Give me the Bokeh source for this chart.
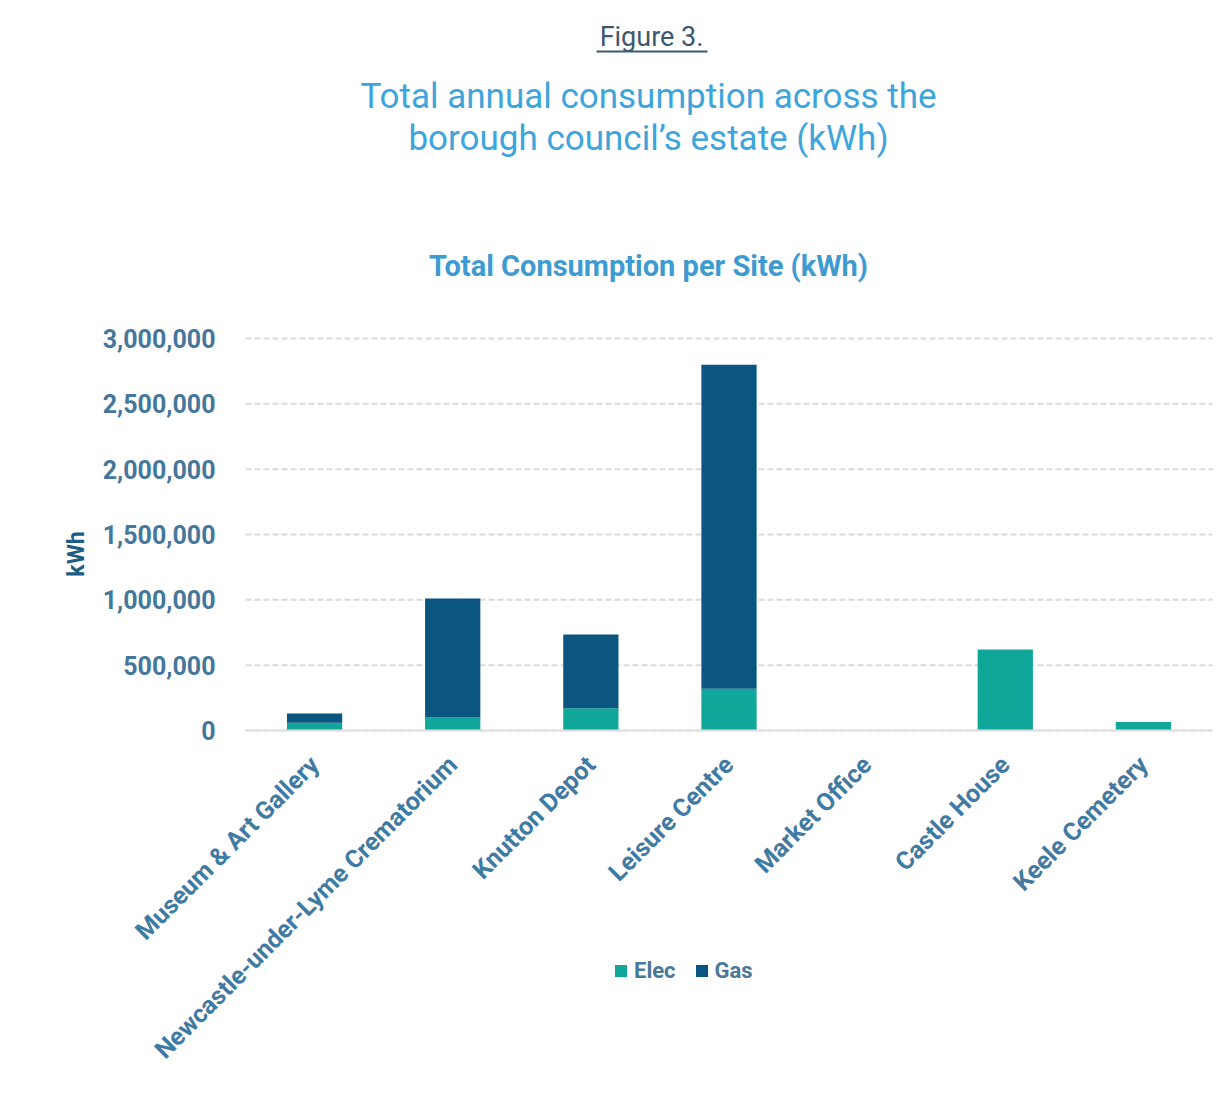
from bokeh.plotting import figure
from bokeh.models import (Range1d, NumeralTickFormatter, Legend, LegendItem, Label,
                          BoxAnnotation, FixedTicker)
from bokeh.embed import file_html
from bokeh.resources import INLINE
from math import pi

sites = ["Museum & Art Gallery", "Newcastle-under-Lyme Crematorium", "Knutton Depot",
         "Leisure Centre", "Market Office", "Castle House", "Keele Cemetery"]
elec = [60000, 100000, 170000, 320000, 0, 620000, 65000]
gas = [70000, 910000, 565000, 2480000, 0, 0, 0]
series = ["Elec", "Gas"]
colors = ["#10a69a", "#0b5680"]
y_ticks = [0, 500000, 1000000, 1500000, 2000000, 2500000, 3000000]

FONT = "Roboto"
W, H = 1230, 1107
PLOT_L, PLOT_R = 245, 1212   # canvas columns of the category band
Y0_PX = 730                  # canvas row of value 0
YMAX_PX = 338                # canvas row of the top tick
per_px_y = (y_ticks[-1] - y_ticks[0]) / (Y0_PX - YMAX_PX)
n = len(sites)
per_px_x = n / (PLOT_R - PLOT_L)
pos = list(range(n))          # category slots on the x scale
band = (-0.5, n - 0.5)

# the frame covers the whole canvas so that the titles, legend and rotated labels are not clipped
x_start = -0.5 - PLOT_L * per_px_x
x_end = n - 0.5 + (W - PLOT_R) * per_px_x
p = figure(width=W, height=H,
           x_range=Range1d(x_start, x_end),
           y_range=Range1d(-(H - Y0_PX) * per_px_y, Y0_PX * per_px_y),
           output_backend="svg", toolbar_location=None, title=None,
           min_border_left=0, min_border_right=0, min_border_top=0, min_border_bottom=0)
p.outline_line_color = None
p.background_fill_color = "white"
p.border_fill_color = "white"

# dashed horizontal grid lines limited to the category band
p.segment(x0=band[0], x1=band[1], y0=y_ticks, y1=y_ticks,
          line_color="#dadada", line_width=2, line_dash="6 3")

data = {"x": pos, "sites": sites, "Elec": elec, "Gas": gas}
rs = p.vbar_stack(series, x="x", width=0.4, color=colors, source=data, line_color=None)

p.yaxis.fixed_location = band[0]
p.yaxis.ticker = FixedTicker(ticks=y_ticks)
p.yaxis.formatter = NumeralTickFormatter(format="0,0")
p.yaxis.axis_line_color = None
p.yaxis.major_tick_line_color = None
p.yaxis.minor_tick_line_color = None
p.yaxis.major_label_text_font = FONT
p.yaxis.major_label_text_font_size = "25px"
p.yaxis.major_label_text_font_style = "bold"
p.yaxis.major_label_text_color = "#45779c"
p.yaxis.axis_label = "kWh"
p.yaxis.axis_label_text_font = FONT
p.yaxis.axis_label_text_font_size = "23px"
p.yaxis.axis_label_text_font_style = "bold"
p.yaxis.axis_label_text_color = "#1e5d83"
p.yaxis.axis_label_standoff = 10
p.yaxis.major_label_standoff = 24

p.xaxis.fixed_location = 0
p.xaxis.bounds = band
p.xaxis.ticker = FixedTicker(ticks=pos)
p.xaxis.major_label_overrides = {i: s for i, s in zip(pos, sites)}
p.xaxis.axis_line_color = "#e0e0e0"
p.xaxis.axis_line_width = 2
p.xaxis.major_tick_line_color = None
p.xaxis.minor_tick_line_color = None
p.xaxis.major_label_orientation = pi / 4
p.xaxis.major_label_text_font = FONT
p.xaxis.major_label_text_font_size = "25px"
p.xaxis.major_label_text_font_style = "bold"
p.xaxis.major_label_text_color = "#3f7aa2"
p.xaxis.major_label_standoff = 24

p.xgrid.grid_line_color = None
p.ygrid.grid_line_color = None


def lab(text, cx, cy, size, color, style="normal"):
    # cx, cy: canvas position of the text centre; frame screen units (origin bottom-left)
    p.add_layout(Label(x=cx, y=H - cy, x_units="screen", y_units="screen", text=text,
                       text_font=FONT, text_font_size=size, text_font_style=style,
                       text_color=color, text_align="center", text_baseline="middle"))


lab("Figure 3.", 651, 36, "27px", "#3d5870")
p.add_layout(BoxAnnotation(left=596, right=707, top=H - 50, bottom=H - 52,
                           left_units="screen", right_units="screen",
                           top_units="screen", bottom_units="screen",
                           fill_color="#3d5870", fill_alpha=1, line_color=None))
lab("Total annual consumption across the", 648, 96, "35px", "#3ea5dc")
lab("borough council\u2019s estate (kWh)", 648, 138, "35px", "#3ea5dc")
lab("Total Consumption per Site (kWh)", 648, 265, "29px", "#3d9bd1", "bold")

legend = Legend(items=[LegendItem(label=s, renderers=[r]) for s, r in zip(series, rs)],
                location=(613, H - 983), orientation="horizontal",
                label_text_font=FONT, label_text_font_size="22px", label_text_font_style="bold",
                label_text_color="#4a7898",
                glyph_width=15, glyph_height=15, spacing=18, label_standoff=6,
                border_line_color=None, background_fill_alpha=0, padding=2, margin=0)
p.add_layout(legend, "center")

open("out.html", "w").write(file_html(p, INLINE))
